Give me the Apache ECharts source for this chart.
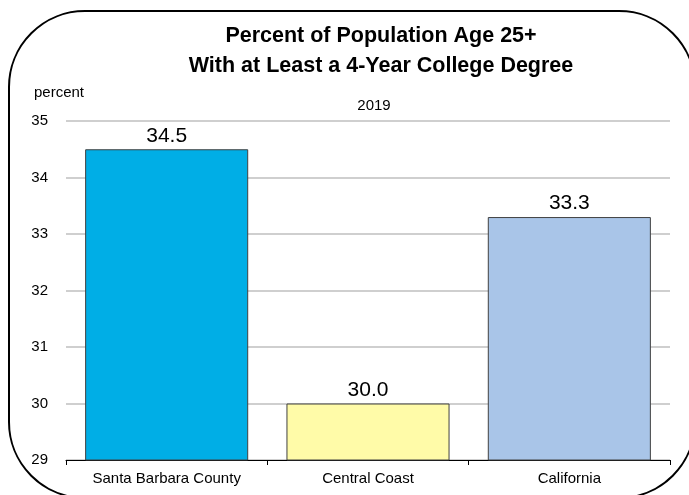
<!DOCTYPE html>
<html><head><meta charset="utf-8">
<script src="https://cdn.jsdelivr.net/npm/echarts@6/dist/echarts.min.js"></script>
<style>html,body{margin:0;padding:0;background:#fff}#c{width:689px;height:495px}</style>
</head><body><div id="c"></div>
<script>
const categories = ["Santa Barbara County", "Central Coast", "California"];
const values = [34.5, 30.0, 33.3];
const barColors = ["#00AEE6", "#FFFBA8", "#A9C5E8"];
const yTicks = [29, 30, 31, 32, 33, 34, 35];

const chart = echarts.init(document.getElementById('c'), null, {renderer: 'canvas'});
const F = '"Liberation Sans", Arial, sans-serif';
chart.setOption({
  animation: false,
  graphic: [
    {type: 'rect', shape: {x: 9, y: 11, width: 686, height: 487, r: 76}, style: {fill: 'none', stroke: '#000', lineWidth: 2}, z: 100},
    {type: 'text', left: 34, top: 85, style: {text: 'percent', font: '15px ' + F, fill: '#000'}}
  ],
  title: [
    {text: 'Percent of Population Age 25+\nWith at Least a 4-Year College Degree', left: 376, textAlign: 'center', top: 16,
     textStyle: {fontFamily: F, fontSize: 21.5, fontWeight: 'bold', color: '#000', lineHeight: 30}},
    {text: '2019', left: 369, textAlign: 'center', top: 93, textStyle: {fontFamily: F, fontSize: 15, fontWeight: 'normal', color: '#000'}}
  ],
  grid: {left: 66, right: 19, top: 121, bottom: 35},
  xAxis: {
    type: 'category', data: categories,
    axisLine: {show: true, lineStyle: {color: '#000', width: 1}},
    axisTick: {show: true, length: 5, lineStyle: {color: '#000'}},
    axisLabel: {interval: 0, fontFamily: F, fontSize: 15, color: '#000', margin: 11}
  },
  yAxis: {
    type: 'value', min: yTicks[0], max: yTicks[yTicks.length - 1], interval: 1,
    axisLine: {show: false}, axisTick: {show: false},
    axisLabel: {fontFamily: F, fontSize: 15, color: '#000', margin: 18},
    splitLine: {lineStyle: {color: '#BFBFBF', width: 1.5}}
  },
  series: [{
    type: 'bar', barCategoryGap: '19%',
    data: values.map((v, i) => ({value: v, itemStyle: {color: barColors[i]}})),
    itemStyle: {borderColor: '#404040', borderWidth: 1},
    label: {show: true, position: 'top', distance: 3, formatter: p => p.value.toFixed(1), fontFamily: F, fontSize: 21, color: '#000'}
  }]
});
</script></body></html>
